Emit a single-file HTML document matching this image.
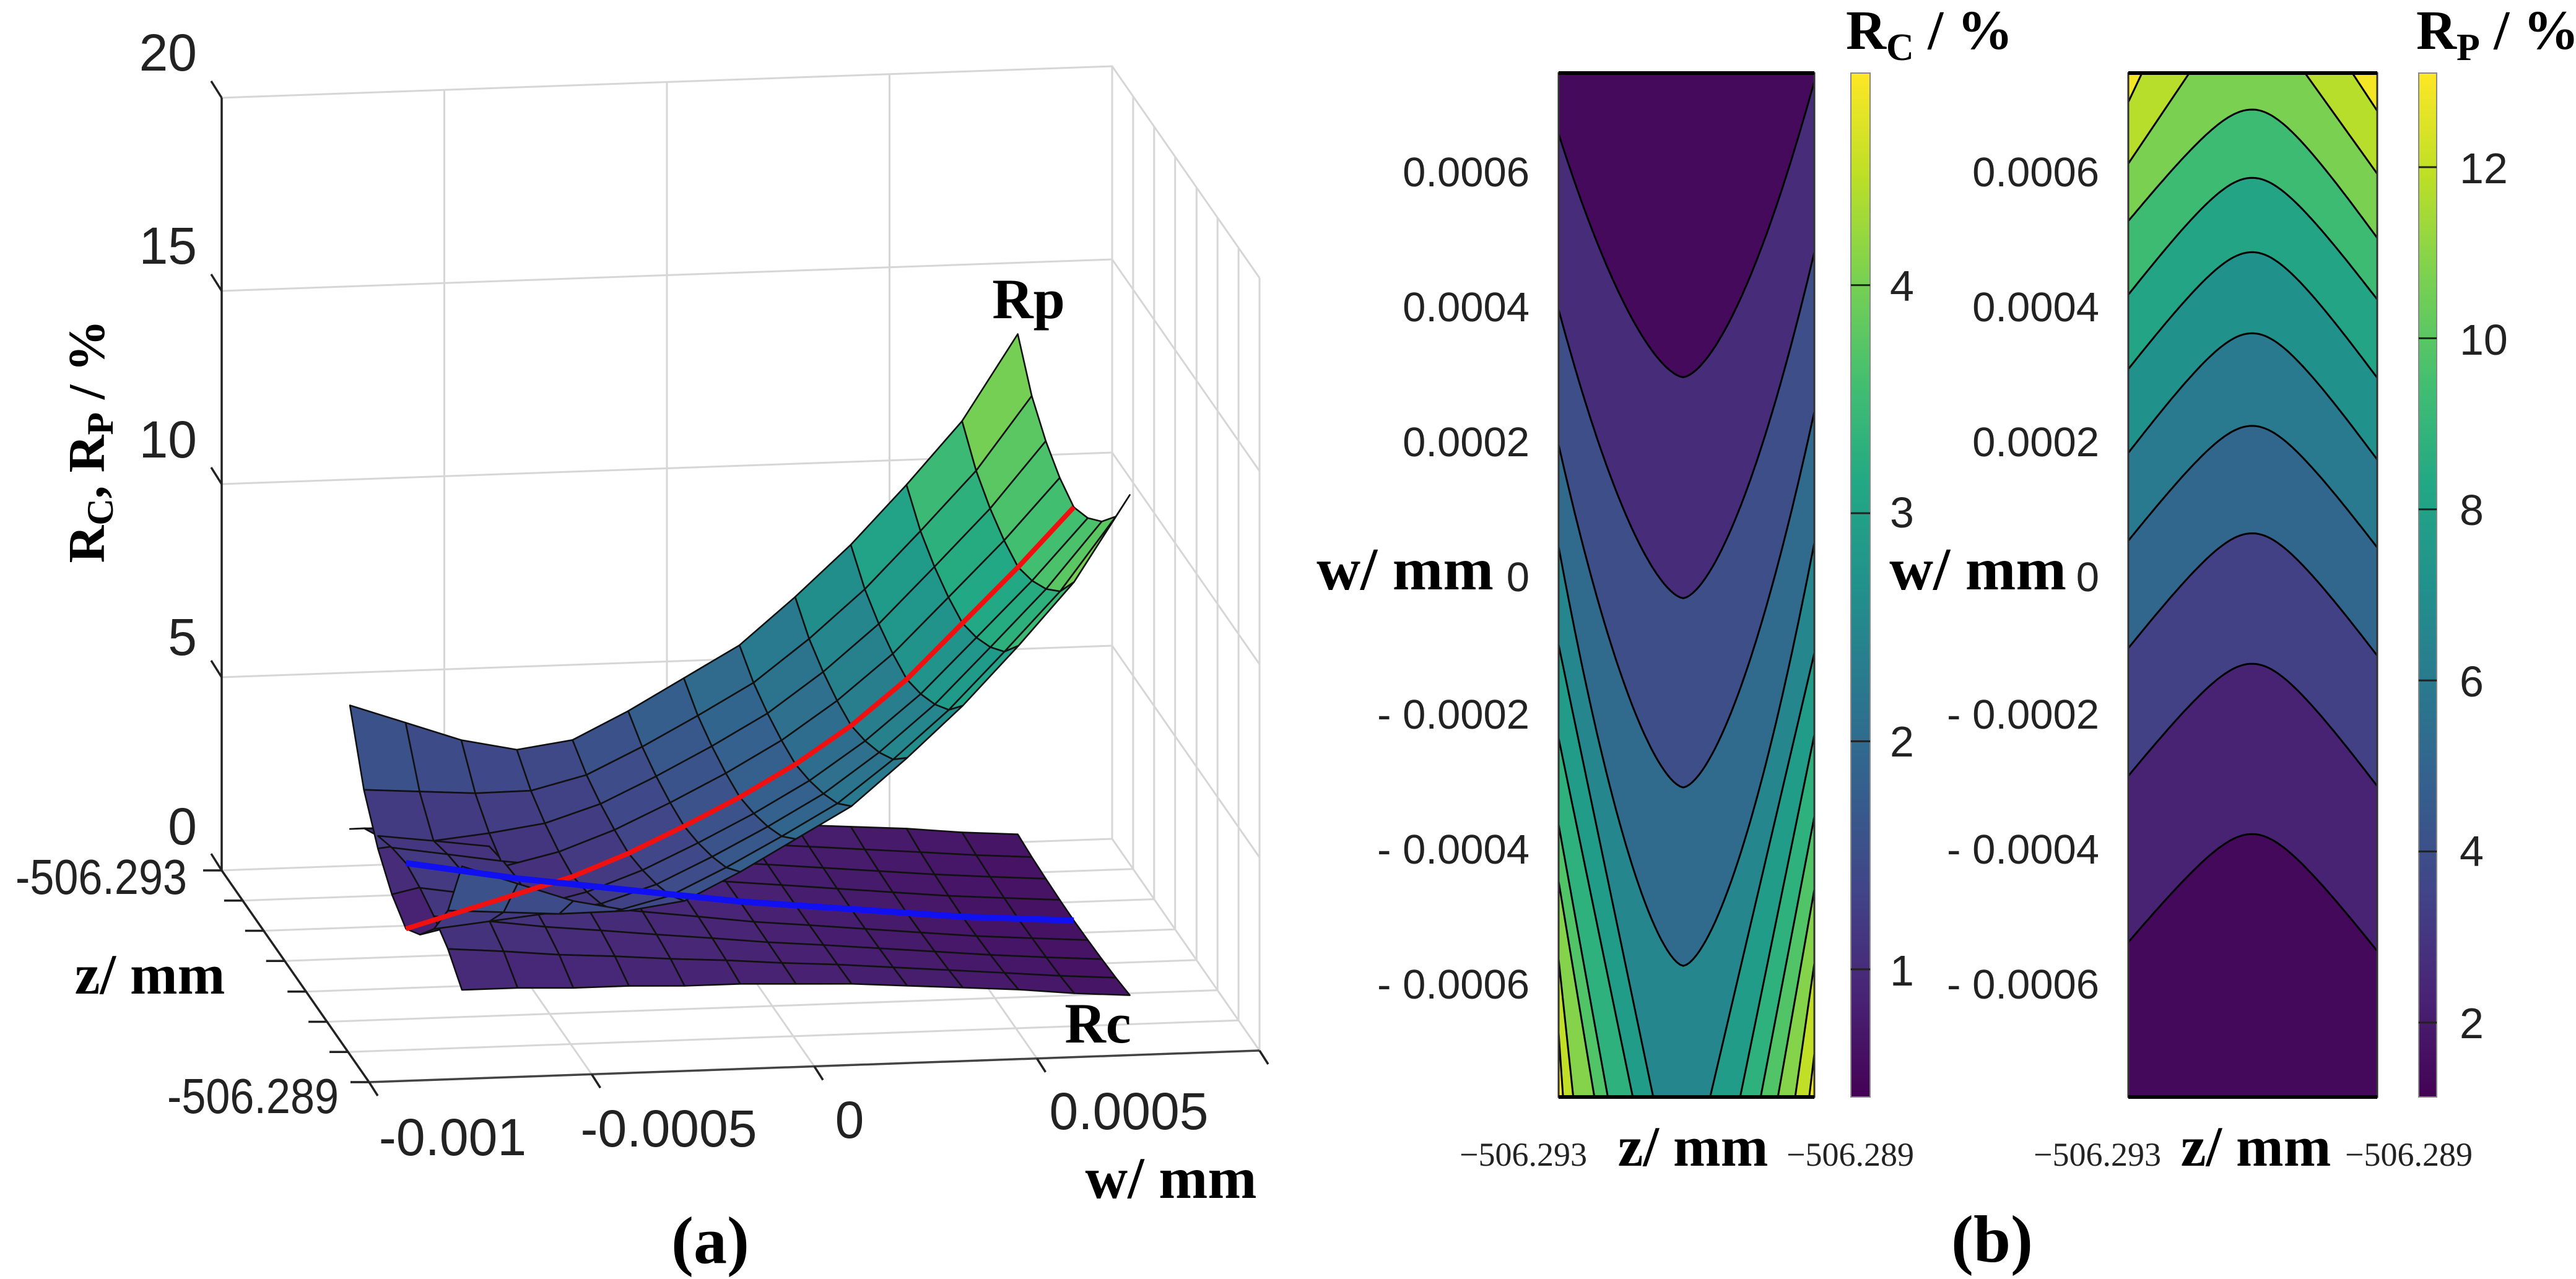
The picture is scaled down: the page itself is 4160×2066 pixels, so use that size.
<!DOCTYPE html>
<html><head><meta charset="utf-8">
<style>
html,body{margin:0;padding:0;background:#fff;width:4160px;height:2066px;overflow:hidden}
svg{display:block}
.t{font-family:"Liberation Sans",Arial,sans-serif;fill:#222}
.s{font-family:"Liberation Serif","Times New Roman",serif;fill:#222}
.b{font-family:"Liberation Serif","Times New Roman",serif;font-weight:bold;fill:#000}
</style></head>
<body>
<svg id="fig" width="4160" height="2066" viewBox="0 0 4160 2066" xmlns="http://www.w3.org/2000/svg">
<defs>
<linearGradient id="gRc" x1="0" y1="1" x2="0" y2="0"></linearGradient>
<linearGradient id="gRp" x1="0" y1="1" x2="0" y2="0"></linearGradient>
</defs>
<g id="a3d"></g>
<g id="rcmap"></g>
<g id="rpmap"></g>

<g class="t" font-size="84" text-anchor="end">
<text x="318" y="114">20</text>
<text x="318" y="426">15</text>
<text x="318" y="739">10</text>
<text x="318" y="1058">5</text>
<text x="318" y="1364">0</text>
</g>
<text class="b" font-size="84" text-anchor="middle" transform="translate(168,713) rotate(-90)">R<tspan font-size="60" dy="14">C</tspan><tspan dy="-14">, R</tspan><tspan font-size="60" dy="14">P</tspan><tspan dy="-14"> / %</tspan></text>
<g class="t" font-size="80">
<text x="25" y="1444" textLength="277" lengthAdjust="spacingAndGlyphs">-506.293</text>
<text x="270" y="1798" textLength="277" lengthAdjust="spacingAndGlyphs">-506.289</text>
</g>
<text class="b" x="242" y="1605" font-size="92" text-anchor="middle">z/ mm</text>
<g class="t" font-size="84" text-anchor="middle">
<text x="731" y="1866">-0.001</text>
<text x="1080" y="1852">-0.0005</text>
<text x="1372" y="1838">0</text>
<text x="1823" y="1824">0.0005</text>
</g>
<text class="b" x="1891" y="1935" font-size="95" text-anchor="middle">w/ mm</text>
<text class="b" x="1661" y="514" font-size="92" text-anchor="middle">Rp</text>
<text class="b" x="1773" y="1684" font-size="92" text-anchor="middle">Rc</text>
<text class="b" x="1147" y="2040" font-size="108" text-anchor="middle">(a)</text>

<g class="t" font-size="67" text-anchor="end">
<text x="2470" y="301">0.0006</text>
<text x="2470" y="519">0.0004</text>
<text x="2470" y="737">0.0002</text>
<text x="2470" y="955">0</text>
<text x="2470" y="1177">- 0.0002</text>
<text x="2470" y="1395">- 0.0004</text>
<text x="2470" y="1613">- 0.0006</text>
</g>
<text class="b" x="2412" y="952" font-size="98" text-anchor="end">w/ mm</text>
<g class="t" font-size="67" text-anchor="end">
<text x="3390" y="301">0.0006</text>
<text x="3390" y="519">0.0004</text>
<text x="3390" y="737">0.0002</text>
<text x="3390" y="955">0</text>
<text x="3390" y="1177">- 0.0002</text>
<text x="3390" y="1395">- 0.0004</text>
<text x="3390" y="1613">- 0.0006</text>
</g>
<text class="b" x="3337" y="952" font-size="98" text-anchor="end">w/ mm</text>

<g class="t" font-size="70">
<text x="3052" y="1592">1</text>
<text x="3052" y="1222">2</text>
<text x="3052" y="852">3</text>
<text x="3052" y="486">4</text>
</g>
<g class="t" font-size="70">
<text x="3972" y="1677">2</text>
<text x="3972" y="1399">4</text>
<text x="3972" y="1125">6</text>
<text x="3972" y="848">8</text>
<text x="3972" y="573">10</text>
<text x="3972" y="296">12</text>
</g>
<text class="b" x="2981" y="79" font-size="90">R<tspan font-size="62" dy="18">C</tspan><tspan dy="-18"> / %</tspan></text>
<text class="b" x="3902" y="79" font-size="90">R<tspan font-size="62" dy="18">P</tspan><tspan dy="-18"> / %</tspan></text>

<text class="s" x="2563" y="1883" font-size="54" text-anchor="end">−506.293</text>
<text class="b" x="2734" y="1883" font-size="92" text-anchor="middle">z/ mm</text>
<text class="s" x="2885" y="1883" font-size="54">−506.289</text>
<text class="s" x="3490" y="1883" font-size="54" text-anchor="end">−506.293</text>
<text class="b" x="3643" y="1883" font-size="92" text-anchor="middle">z/ mm</text>
<text class="s" x="3787" y="1883" font-size="54">−506.289</text>
<text class="b" x="3217" y="2038" font-size="108" text-anchor="middle">(b)</text>
</svg>

<script>
// ---------- data: 3D surfaces (panel a) ----------
const wGrid3d = [-0.00075,-0.000625,-0.0005,-0.000375,-0.00025,-0.000125,0,0.000125,0.00025,0.000375,0.0005,0.000625,0.00075];
const zGrid3d = [-506.29254,-506.29216,-506.29178,-506.2914,-506.29102,-506.29064,-506.29026,-506.28988,-506.2895];
const zProfile = [1,0.55,0.28,0.1,0,0.1,0.28,0.55,1];
const rpCenter = [1.1,1.5,1.9,2.3,2.85,3.5,4.2,5.0,5.95,7.1,8.5,9.9,11.4];
const rpEdge   = [4.8,4.3,3.8,3.5,3.7,4.4,5.2,6.0,7.2,8.5,10.0,11.6,13.8];
const rcCenter = [2.8,2.55,2.3,2.1,1.9,1.7,1.5,1.35,1.2,1.05,0.9,0.8,0.7];
const rcEdge   = [1.6,1.6,1.55,1.55,1.5,1.5,1.45,1.4,1.3,1.2,1.1,0.95,0.85];
const rTicks3d = [0,5,10,15,20];
const wTicks3d = [-0.001,-0.0005,0,0.0005,0.001];
const zTicks3d = [-506.293,-506.29243,-506.29186,-506.29129,-506.29071,-506.29014,-506.28957,-506.289];

// ---------- data: Rc contour map ----------
const rcVApexW  = [0.000295,-0.000032,-0.000312,-0.000576];
const rcVLeftW  = [0.000655,0.000395,0.000195,0.000044];
const rcVRightW = [0.000733,0.00048,0.000244,0.00005];
const rcVApexZ  = -506.29105;
const rcBandValues = [0.55,1.0,1.5,2.0,2.5];
const rcLeftStartW = [-0.000101,-0.000239,-0.000367,-0.000451,-0.000566,-0.000675];
const rcLeftEndZ   = [-506.29152,-506.29184,-506.29223,-506.29244,-506.29277,-506.29293];
const rcRightStartW= [-0.000113,-0.000234,-0.000355,-0.000463,-0.000572,-0.000706];
const rcRightEndZ  = [-506.29063,-506.29016,-506.28984,-506.28957,-506.2893,-506.28908];
const rcSideValues = [2.9,3.3,3.7,4.1,4.5,4.85];
const rcCbarTicks = [1,2,3,4];

// ---------- data: Rp contour map ----------
const rpArcApexW  = [0.000691,0.00059,0.00048,0.00036,0.000223,0.000064,-0.000129,-0.000381];
const rpArcLeftW  = [0.000526,0.000417,0.000307,0.000183,0.000053,-0.000106,-0.000295,-0.000541];
const rpArcRightW = [0.000501,0.00041,0.000294,0.000173,0.000043,-0.000117,-0.00031,-0.000554];
const rpArcApexZ  = -506.29101;
const rpBandValues = [10.7,9.3,8.1,7.1,6.0,5.1,3.4,2.3,1.4];
const rpCornerTopZ  = [-506.29202,-506.29278,-506.29016,-506.2894];
const rpCornerEdgeW = [0.000611,0.000702,0.000596,0.000689];
const rpCornerSide  = ['left','left','right','right'];
const rpCornerValues= [11.8,12.9,11.8,12.9];
const rpCbarTicks = [2,4,6,8,10,12];

// ---------- helpers ----------
const NS='http://www.w3.org/2000/svg';
function mk(parent, tag, attrs){const e=document.createElementNS(NS,tag);for(const k in attrs)e.setAttribute(k,attrs[k]);parent.appendChild(e);return e;}
const VS=[[68,1,84],[72,36,117],[65,68,135],[53,95,141],[42,120,142],[33,145,140],[34,168,132],[68,191,112],[122,209,81],[189,223,38],[253,231,37]];
function viridis(t){t=Math.max(0,Math.min(1,t));const f=t*10,i=Math.min(9,Math.floor(f)),u=f-i;const c=VS[i].map((v,k)=>Math.round(v+(VS[i+1][k]-v)*u));return 'rgb('+c.join(',')+')';}
function pts(a){return a.map(p=>p[0].toFixed(1)+','+p[1].toFixed(1)).join(' ');}

// ---------- panel a ----------
const A=document.getElementById('a3d');
function P(w,z,R){const a=(w+0.001)/0.002,t=(z+506.293)/0.004;return [358+1438*a+238*t,1406-51*a+342*t-62.4*R];}
const W0=-0.001,W1=0.001,Z0=-506.293,Z1=-506.289;
const grid=mk(A,'g',{stroke:'#d6d6d6','stroke-width':3,fill:'none'});


rTicks3d.forEach(R=>{
  if(R>0){
    const l1=mk(grid,'polyline',{points:pts([P(W0,Z0,R),P(W1,Z0,R),P(W1,Z1,R)])});
    
    
  }
});
wTicks3d.forEach(w=>{
  if(w>W0){
    const l=mk(grid,'polyline',{points:pts([P(w,Z1,0),P(w,Z0,0),P(w,Z0,20)])});
    
    
  }
});
zTicks3d.forEach(z=>{
  const l=mk(grid,'polyline',{points:pts([P(W0,z,0),P(W1,z,0),P(W1,z,20)])});
  
  
});
const axes=mk(A,'g',{stroke:'#222','stroke-width':3.5,fill:'none'});


const ax1=mk(axes,'line',{x1:P(W0,Z0,0)[0],y1:P(W0,Z0,0)[1],x2:P(W0,Z0,20)[0],y2:P(W0,Z0,20)[1]});


const ax2=mk(axes,'line',{x1:P(W0,Z0,0)[0],y1:P(W0,Z0,0)[1],x2:P(W0,Z1,0)[0],y2:P(W0,Z1,0)[1]});


const ax3=mk(axes,'line',{x1:P(W0,Z1,0)[0],y1:P(W0,Z1,0)[1],x2:P(W1,Z1,0)[0],y2:P(W1,Z1,0)[1],stroke:'#444'});


rTicks3d.forEach(R=>{const p=P(W0,Z0,R);
  const tk=mk(axes,'line',{x1:p[0],y1:p[1],x2:p[0]-17,y2:p[1]-27});
  
  });
zTicks3d.forEach(z=>{const p=P(W0,z,0);
  const tk=mk(axes,'line',{x1:p[0],y1:p[1],x2:p[0]-30,y2:p[1]});
  
  });
wTicks3d.forEach(w=>{const p=P(w,Z1,0);
  const tk=mk(axes,'line',{x1:p[0],y1:p[1],x2:p[0]+14,y2:p[1]+22});
  
  });

function surfR(center,edge,i,j){return center[i]+(edge[i]-center[i])*zProfile[j];}
const quads=[];
[[rpCenter,rpEdge,'rp'],[rcCenter,rcEdge,'rc']].forEach(([c,e,nm])=>{
  for(let i=0;i<wGrid3d.length-1;i++)for(let j=0;j<zGrid3d.length-1;j++){
    const c4=[[i,j],[i+1,j],[i+1,j+1],[i,j+1]];
    const Rs=c4.map(([a,b])=>surfR(c,e,a,b));
    const pp=c4.map(([a,b],k)=>P(wGrid3d[a],zGrid3d[b],Rs[k]));
    const Ravg=(Rs[0]+Rs[1]+Rs[2]+Rs[3])/4;
    const tm=((zGrid3d[j]+zGrid3d[j+1])/2+506.293)/0.004;
    quads.push({pp,Ravg,depth:tm+0.06*Ravg,nm});
  }
});
quads.sort((a,b)=>a.depth-b.depth);
const surfG=mk(A,'g',{stroke:'#111','stroke-width':2.6,'stroke-linejoin':'round'});


quads.forEach(q=>{
  const poly=mk(surfG,'polygon',{points:pts(q.pp),fill:viridis(q.Ravg/15.5)});
  
  
});
const mid=4;
const red=mk(A,'polyline',{points:pts(wGrid3d.map((w,i)=>P(w,zGrid3d[mid],rpCenter[i]))),fill:'none',stroke:'#f01010','stroke-width':8,'stroke-linejoin':'round'});


const blue=mk(A,'polyline',{points:pts(wGrid3d.map((w,i)=>P(w,zGrid3d[mid],rcCenter[i]))),fill:'none',stroke:'#1010f0','stroke-width':10,'stroke-linejoin':'round'});



// ---------- contour helpers ----------
const BOX_T=118,BOX_B=1772;
function yW(w){return BOX_B-(w+0.00077)/0.001515*(BOX_B-BOX_T);}
function makeX(x0,x1){return z=>x0+(z+506.293)/0.004*(x1-x0);}
function curve(x0,x1,xA,yA,yL,yR,shape){
  const out=[];
  for(let k=0;k<=80;k++){const x=x0+(x1-x0)*k/80;let s,yE;
    if(x<xA){s=(xA-x)/(xA-x0);yE=yL;}else{s=(x-xA)/(x1-xA);yE=yR;}
    out.push([x,yA+(yE-yA)*shape(s)]);}
  return out;
}
function drawCbar(gid,x0,x1,vmin,vmax,ticks,cmin,cmax,name){
  const g=document.getElementById(gid);
  for(let k=0;k<=20;k++){const v=vmin+(vmax-vmin)*k/20;
    const st=mk(g,'stop',{offset:(k/20).toFixed(3),'stop-color':viridis((v-cmin)/(cmax-cmin))});
    
    }
  const svg=document.getElementById('fig');
  const r=mk(svg,'rect',{x:x0,y:BOX_T,width:x1-x0,height:BOX_B-BOX_T,fill:'url(#'+gid+')',stroke:'#888','stroke-width':2});
  
  
  ticks.forEach(v=>{const y=BOX_B-(v-vmin)/(vmax-vmin)*(BOX_B-BOX_T);
    const l=mk(svg,'line',{x1:x0,x2:x1,y1:y,y2:y,stroke:'#222','stroke-width':3});
    
    });
}

// ---------- Rc map ----------
(function(){
  const G=document.getElementById('rcmap');
  const x0=2517,x1=2930,X=makeX(x0,x1);
  const cmin=0.44,cmax=4.93,col=v=>viridis((v-cmin)/(cmax-cmin));
  const bg=mk(G,'rect',{x:x0,y:BOX_T,width:x1-x0,height:BOX_B-BOX_T,fill:col(rcBandValues[0])});
  
  
  const xA=X(rcVApexZ);
  rcVApexW.forEach((aw,k)=>{
    const c=curve(x0,x1,xA,yW(aw),yW(rcVLeftW[k]),yW(rcVRightW[k]),s=>Math.pow(s,1.6));
    const f=mk(G,'polygon',{points:pts(c.concat([[x1,BOX_B],[x0,BOX_B]])),fill:col(rcBandValues[k+1])});
    
    
    const l=mk(G,'polyline',{points:pts(c),fill:'none',stroke:'#000','stroke-width':3});
    
    
  });
  rcLeftStartW.forEach((sw,k)=>{
    const a=[x0,yW(sw)],b=[X(rcLeftEndZ[k]),BOX_B];
    const f=mk(G,'polygon',{points:pts([a,b,[x0,BOX_B]]),fill:col(rcSideValues[k]),stroke:'#000','stroke-width':3});
    
    
  });
  rcRightStartW.forEach((sw,k)=>{
    const a=[x1,yW(sw)],b=[X(rcRightEndZ[k]),BOX_B];
    const f=mk(G,'polygon',{points:pts([a,b,[x1,BOX_B]]),fill:col(rcSideValues[k]),stroke:'#000','stroke-width':3});
    
    
  });
  const fr=mk(G,'rect',{x:x0,y:BOX_T,width:x1-x0,height:BOX_B-BOX_T,fill:'none',stroke:'#333','stroke-width':3});
  
  
  [BOX_T,BOX_B].forEach(y=>{const l=mk(G,'line',{x1:x0,x2:x1,y1:y,y2:y,stroke:'#000','stroke-width':6});
    
    });
  drawCbar('gRc',2989,3020,cmin,cmax,rcCbarTicks,cmin,cmax,'rc-colorbar');
})();

// ---------- Rp map ----------
(function(){
  const G=document.getElementById('rpmap');
  const x0=3437,x1=3839,X=makeX(x0,x1);
  const cmin=1.13,cmax=13.1,col=v=>viridis((v-cmin)/(cmax-cmin));
  const bg=mk(G,'rect',{x:x0,y:BOX_T,width:x1-x0,height:BOX_B-BOX_T,fill:col(rpBandValues[0])});
  
  
  rpCornerTopZ.forEach((z,k)=>{
    const ex=rpCornerSide[k]==='left'?x0:x1;
    const f=mk(G,'polygon',{points:pts([[ex,BOX_T],[X(z),BOX_T],[ex,yW(rpCornerEdgeW[k])]]),fill:col(rpCornerValues[k]),stroke:'#000','stroke-width':3});
    
    
  });
  const xA=X(rpArcApexZ),cc=0.35,den=Math.sqrt(1+cc*cc)-cc;
  rpArcApexW.forEach((aw,k)=>{
    const c=curve(x0,x1,xA,yW(aw),yW(rpArcLeftW[k]),yW(rpArcRightW[k]),s=>(Math.sqrt(s*s+cc*cc)-cc)/den);
    const f=mk(G,'polygon',{points:pts(c.concat([[x1,BOX_B],[x0,BOX_B]])),fill:col(rpBandValues[k+1])});
    
    
    const l=mk(G,'polyline',{points:pts(c),fill:'none',stroke:'#000','stroke-width':3});
    
    
  });
  const fr=mk(G,'rect',{x:x0,y:BOX_T,width:x1-x0,height:BOX_B-BOX_T,fill:'none',stroke:'#333','stroke-width':3});
  
  
  [BOX_T,BOX_B].forEach(y=>{const l=mk(G,'line',{x1:x0,x2:x1,y1:y,y2:y,stroke:'#000','stroke-width':6});
    
    });
  drawCbar('gRp',3906,3935,cmin,cmax,rpCbarTicks,cmin,cmax,'rp-colorbar');
})();
</script>
</body></html>
